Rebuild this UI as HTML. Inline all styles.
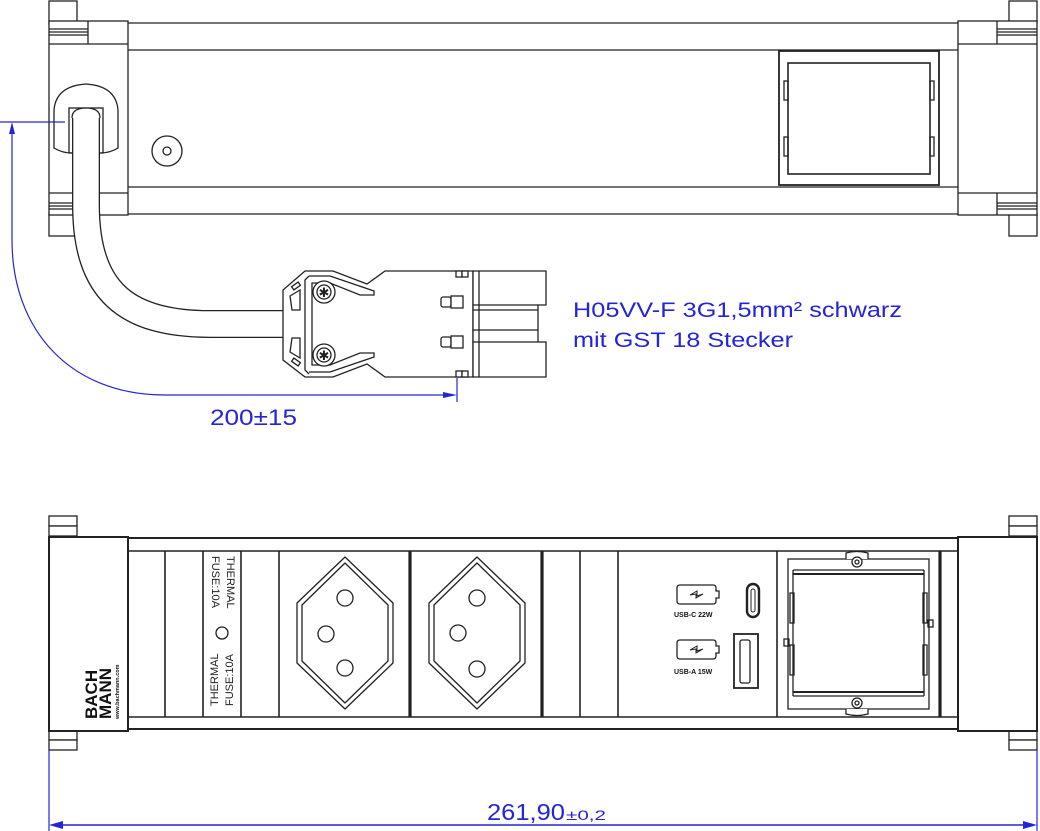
<!DOCTYPE html>
<html><head><meta charset="utf-8"><style>html,body{margin:0;padding:0;background:#fff}svg{display:block}</style></head>
<body>
<svg width="1040" height="831" viewBox="0 0 1040 831" xmlns="http://www.w3.org/2000/svg" font-family="Liberation Sans, sans-serif">
<g fill="none" stroke="#222" stroke-width="1.3">
<!-- TOP VIEW -->
<rect x="49" y="1" width="28" height="23" fill="#fff"/>
<rect x="49" y="213" width="28" height="23" fill="#fff"/>
<rect x="49" y="21" width="79" height="194" fill="#fff"/>
<line x1="49" y1="44" x2="128" y2="44"/><line x1="49" y1="193" x2="128" y2="193"/>
<line x1="88" y1="21" x2="88" y2="44"/><line x1="88" y1="193" x2="88" y2="215"/>
<line x1="49" y1="29" x2="88" y2="29"/><line x1="49" y1="32" x2="88" y2="32"/><line x1="49" y1="35" x2="88" y2="35"/>
<line x1="49" y1="203" x2="88" y2="203"/><line x1="49" y1="206" x2="88" y2="206"/><line x1="49" y1="209" x2="88" y2="209"/>
<line x1="128" y1="23" x2="958" y2="23"/><line x1="128" y1="50" x2="958" y2="50"/>
<line x1="128" y1="187" x2="958" y2="187"/><line x1="128" y1="214" x2="958" y2="214"/>
<rect x="1009" y="1" width="28" height="22" fill="#fff"/>
<rect x="1009" y="213" width="28" height="23" fill="#fff"/>
<rect x="958" y="21" width="79" height="194" fill="#fff"/>
<line x1="958" y1="44" x2="1037" y2="44"/><line x1="958" y1="193" x2="1037" y2="193"/>
<line x1="997" y1="21" x2="997" y2="44"/><line x1="997" y1="193" x2="997" y2="215"/>
<line x1="997" y1="29" x2="1037" y2="29"/><line x1="997" y1="32" x2="1037" y2="32"/><line x1="997" y1="35" x2="1037" y2="35"/>
<line x1="997" y1="203" x2="1037" y2="203"/><line x1="997" y1="206" x2="1037" y2="206"/><line x1="997" y1="209" x2="1037" y2="209"/>
<path d="M54,148 L54,110 Q56,86 86,84 Q116,86 118,110 L118,148 Q110,153 100,153 L72,153 Q62,153 54,148 Z" fill="#fff"/>
<rect x="69" y="108" width="34" height="45"/>
<circle cx="167" cy="151" r="15"/><circle cx="167" cy="151" r="4"/>
<rect x="779" y="51" width="160" height="134" stroke-width="1.8"/>
<rect x="788" y="63" width="142" height="111" stroke-width="1.6"/>
<rect x="784" y="81" width="4" height="19"/><rect x="784" y="137" width="4" height="19"/>
<rect x="930" y="81" width="4" height="19"/><rect x="930" y="137" width="4" height="19"/>
</g>
<path d="M86,115 L86,205 C86,290 125,324 210,324 L283,324" fill="none" stroke="#222" stroke-width="28"/>
<path d="M86,112 L86,205 C86,290 125,324 210,324 L285,324" fill="none" stroke="#fff" stroke-width="25.4"/>
<path d="M72,118 Q72,108 86,108 Q100,108 100,118" fill="#fff" stroke="#222" stroke-width="1.3"/>
<g fill="#fff" stroke="#222" stroke-width="1.3">
<path d="M305,271 L333,271 L367,284 L385,271 L473,271 L473,377 L385,377 L367,364 L333,377 L305,377 L283,360 L283,290 Z"/>
<path d="M473,271 L546,271 L546,305 L538,305 L538,342 L546,342 L546,377 L473,377 Z"/>
<line x1="479" y1="271" x2="479" y2="377"/>
<line x1="473" y1="305" x2="538" y2="305"/><line x1="473" y1="310" x2="538" y2="310"/>
<line x1="473" y1="330" x2="538" y2="330"/><line x1="473" y1="342" x2="538" y2="342"/>
<path d="M309,276 L305,280 L305,370 L309,374" fill="none"/>
<path d="M309,276 L330,276 L374,291 L374,295 L360,295 L330,283 L312,283 L312,365 L330,365 L360,353 L374,353 L374,357 L330,372 L309,372" fill="none"/>
<path d="M290,296 L300,290 L300,310 L292,310 Z M290,352 L300,358 L300,338 L292,338 Z" fill="none"/>
<rect x="292" y="284" width="8" height="4" transform="rotate(-35 296 286)"/>
<rect x="292" y="360" width="8" height="4" transform="rotate(35 296 362)"/>
<circle cx="324" cy="292" r="11"/><circle cx="324" cy="292" r="7"/>
<circle cx="324" cy="355" r="11"/><circle cx="324" cy="355" r="7"/>
<rect x="441" y="297" width="10" height="10" rx="2"/><rect x="451" y="296" width="12" height="12"/>
<rect x="441" y="337" width="10" height="10" rx="2"/><rect x="451" y="336" width="12" height="12"/>
<rect x="456" y="271" width="6" height="6"/><rect x="462" y="271" width="6" height="6"/>
<rect x="456" y="371" width="6" height="6"/><rect x="462" y="371" width="6" height="6"/>
</g>
<text x="324" y="297" font-size="13" text-anchor="middle" fill="#222">✱</text>
<text x="324" y="360" font-size="13" text-anchor="middle" fill="#222">✱</text>
<g stroke="#2424d8" stroke-width="1.2" fill="none">
<line x1="0" y1="122" x2="65" y2="122"/>
<path d="M12,128 L12,240 C12,330 70,395 165,395 L450,395"/>
<line x1="457" y1="378" x2="457" y2="402"/>
</g>
<path d="M12,122 L9,134 L15,134 Z" fill="#2424d8"/>
<path d="M457,395 L443,392 L443,398 Z" fill="#2424d8"/>
<text x="210" y="425" font-size="22" fill="#2424d8" textLength="87" lengthAdjust="spacingAndGlyphs">200±15</text>
<text x="573" y="317" font-size="21" fill="#2424d8" textLength="329" lengthAdjust="spacingAndGlyphs">H05VV-F 3G1,5mm² schwarz</text>
<text x="573" y="347" font-size="21" fill="#2424d8" textLength="220" lengthAdjust="spacingAndGlyphs">mit GST 18 Stecker</text>

<!-- BOTTOM VIEW -->
<g fill="none" stroke="#222" stroke-width="1.3">
<rect x="49" y="516" width="28" height="10" fill="#fff"/><rect x="49" y="526" width="28" height="10" fill="#fff"/>
<rect x="49" y="731" width="28" height="9" fill="#fff"/><rect x="49" y="740" width="28" height="10" fill="#fff"/>
<rect x="1009" y="516" width="28" height="10" fill="#fff"/><rect x="1009" y="526" width="28" height="10" fill="#fff"/>
<rect x="1009" y="731" width="28" height="9" fill="#fff"/><rect x="1009" y="740" width="28" height="10" fill="#fff"/>
<line x1="128" y1="538" x2="958" y2="538" stroke-width="2"/>
<line x1="128" y1="551" x2="958" y2="551" stroke-width="1.6"/>
<line x1="128" y1="717" x2="958" y2="717" stroke-width="1.6"/>
<line x1="128" y1="729" x2="958" y2="729" stroke-width="2"/>
<rect x="49" y="537" width="79" height="194" fill="#fff" stroke-width="2"/>
<rect x="958" y="537" width="79" height="194" fill="#fff" stroke-width="2"/>
<g stroke-width="1.6">
<line x1="165" y1="551" x2="165" y2="717"/><line x1="203" y1="551" x2="203" y2="717"/>
<line x1="241" y1="551" x2="241" y2="717"/><line x1="279" y1="551" x2="279" y2="717"/>
<line x1="580" y1="551" x2="580" y2="717"/><line x1="618" y1="551" x2="618" y2="717"/>
<line x1="777" y1="551" x2="777" y2="717"/>
</g>
<g stroke-width="3.2">
<line x1="410" y1="551" x2="410" y2="717"/><line x1="542" y1="551" x2="542" y2="717"/>
<line x1="940" y1="551" x2="940" y2="717"/>
</g>
<path d="M345,557 L393,603 L393,663 L345,709 L297,663 L297,603 Z" stroke-linejoin="round"/>
<path d="M345,563 L388,605 L388,661 L345,703 L302,661 L302,605 Z" stroke-linejoin="round"/>
<circle cx="345" cy="598" r="8"/><circle cx="326" cy="634" r="8"/><circle cx="345" cy="668" r="8"/>
<path d="M477,557 L525,603 L525,663 L477,709 L429,663 L429,603 Z" stroke-linejoin="round"/>
<path d="M477,563 L520,605 L520,661 L477,703 L434,661 L434,605 Z" stroke-linejoin="round"/>
<circle cx="477" cy="598" r="8"/><circle cx="458" cy="633" r="8"/><circle cx="477" cy="669" r="8"/>
<circle cx="222" cy="633" r="6"/>
<path d="M680,585 L713,585 Q716,585 716,588 L716,591 L719,591 L719,598 L716,598 L716,601 Q716,604 713,604 L680,604 Q677,604 677,601 L677,588 Q677,585 680,585 Z"/>
<path d="M680,640 L713,640 Q716,640 716,643 L716,646 L719,646 L719,653 L716,653 L716,656 Q716,659 713,659 L680,659 Q677,659 677,656 L677,643 Q677,640 680,640 Z"/>
<path d="M690,595 L697,591 L697,596 L703,594 L696,598 L696,594 Z M690,650 L697,646 L697,651 L703,649 L696,653 L696,649 Z" stroke-width="1"/>
<rect x="747" y="584" width="12" height="33" rx="6" stroke-width="2.4"/>
<rect x="751" y="589" width="4" height="23" rx="2" stroke-width="1"/>
<rect x="734" y="634" width="24" height="54" stroke-width="1.8"/>
<rect x="740" y="640" width="10" height="43" rx="2"/>
<rect x="788" y="559" width="141" height="150"/>
<line x1="793" y1="570" x2="924" y2="570"/><line x1="793" y1="574" x2="924" y2="574" stroke-width="2"/>
<line x1="793" y1="692" x2="924" y2="692" stroke-width="2"/><line x1="793" y1="696" x2="924" y2="696"/>
<line x1="793" y1="570" x2="793" y2="696"/><line x1="924" y1="570" x2="924" y2="696"/>
<path d="M846,559 L846,553 Q857,550 868,553 L868,559" fill="#fff"/><circle cx="857" cy="562" r="5" fill="#fff"/><circle cx="857" cy="562" r="2"/>
<path d="M846,709 L846,714 Q857,717 868,714 L868,709" fill="#fff"/><circle cx="857" cy="703" r="5" fill="#fff"/><circle cx="857" cy="703" r="2"/>
<rect x="790" y="593" width="4" height="30"/><rect x="790" y="645" width="4" height="30"/>
<rect x="923" y="593" width="4" height="30"/><rect x="923" y="645" width="4" height="30"/>
<rect x="784" y="639" width="5" height="7"/><rect x="928" y="620" width="5" height="7"/>
</g>
<g fill="#222" font-size="11">
<text transform="translate(227,556) rotate(90)">THERMAL</text>
<text transform="translate(212,556) rotate(90)">FUSE:10A</text>
<text transform="translate(218,706) rotate(-90)">THERMAL</text>
<text transform="translate(233,706) rotate(-90)">FUSE:10A</text>
</g>
<g fill="#111" font-weight="bold">
<text transform="translate(97,719) rotate(-90)" font-size="17">BACH</text>
<text transform="translate(111,719) rotate(-90)" font-size="17">MANN</text>
<text transform="translate(119,719) rotate(-90)" font-size="5.5">www.bachmann.com</text>
<text x="674" y="617" font-size="7">USB-C 22W</text>
<text x="674" y="674" font-size="7">USB-A 15W</text>
</g>
<g stroke="#2424d8" stroke-width="1.2">
<line x1="49" y1="750" x2="49" y2="831"/><line x1="1037" y1="750" x2="1037" y2="831"/>
<line x1="55" y1="825" x2="1031" y2="825" stroke-width="1.6"/>
</g>
<path d="M49,825 L63,821 L63,829 Z M1037,825 L1023,821 L1023,829 Z" fill="#2424d8"/>
<text x="487" y="820" font-size="23" fill="#2424d8" textLength="78" lengthAdjust="spacingAndGlyphs">261,90</text>
<text x="566" y="820" font-size="14" fill="#2424d8" textLength="40" lengthAdjust="spacingAndGlyphs">±0,2</text>
</svg>
</body></html>
